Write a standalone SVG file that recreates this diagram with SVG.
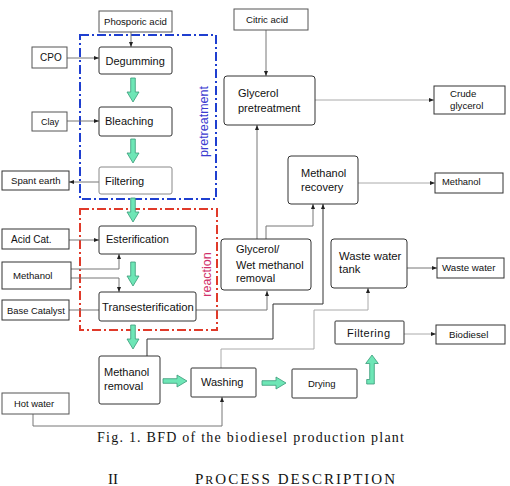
<svg xmlns="http://www.w3.org/2000/svg" width="510" height="486" viewBox="0 0 510 486">
<style>
.in{fill:#fff;stroke:#555;stroke-width:1}
.pr{fill:#fff;stroke:#333;stroke-width:1}
.t{font-family:"Liberation Sans",Arial,sans-serif;fill:#111}
.s{font-size:9.6px}
.m{font-size:11px}
.c{fill:none;stroke:#777;stroke-width:1}
.cd{fill:none;stroke:#333;stroke-width:1}
.cl{fill:none;stroke:#aaa;stroke-width:1}
.g{fill:#6ee6b6;stroke:#3a9a78;stroke-width:0.8}
.cap{font-family:"Liberation Serif","Times New Roman",serif;fill:#111}
</style>
<defs>
<marker id="ah" viewBox="0 0 10 10" refX="10" refY="5" markerWidth="5" markerHeight="5" orient="auto" markerUnits="userSpaceOnUse">
<path d="M0,1 L10,5 L0,9 Z" fill="#222"/>
</marker>
<path id="da" d="M-2.3,0 H2.3 V14 H6 L0,24 L-6,14 H-2.3 Z"/>
</defs>

<g id="region-pretreatment">
<rect x="80" y="35" width="136" height="164" fill="none" stroke="#1f3fd0" stroke-width="2" stroke-dasharray="9,3,2,3"/>
<text class="t" transform="translate(208,121.5) rotate(-90)" text-anchor="middle" font-size="12.5" style="fill:#3a3ad0">pretreatment</text>
</g>
<g id="region-reaction">
<rect x="80" y="209" width="137" height="121" fill="none" stroke="#e03a2a" stroke-width="2" stroke-dasharray="9,3,2,3"/>
<text class="t" transform="translate(211,274.5) rotate(-90)" text-anchor="middle" font-size="12.5" style="fill:#d0306a">reaction</text>
</g>

<g id="connectors">
<path class="c" d="M131,32 V47" marker-end="url(#ah)"/>
<path class="c" d="M67,58 H99" marker-end="url(#ah)"/>
<path class="c" d="M67,121 H99" marker-end="url(#ah)"/>
<path class="c" d="M99,182 H69" marker-end="url(#ah)"/>
<path class="c" d="M69,240 H99" marker-end="url(#ah)"/>
<path class="c" d="M71,269 H119 V254" marker-end="url(#ah)"/>
<path class="c" d="M71,278 H119 V292" marker-end="url(#ah)"/>
<path class="c" d="M69,310 H99"/>
<path class="c" d="M196,310 H267 V291" marker-end="url(#ah)"/>
<path class="c" d="M257,239 V125" marker-end="url(#ah)"/>
<path class="c" d="M266,30 V76" marker-end="url(#ah)"/>
<path class="cl" d="M315,100 H434" marker-end="url(#ah)"/>
<path class="c" d="M266,239 V226 H313 V204" marker-end="url(#ah)"/>
<path class="cd" d="M147,356 V339 H273 V304 H323 V204" marker-end="url(#ah)"/>
<path class="cl" d="M358,183 H435" marker-end="url(#ah)"/>
<path class="cl" d="M221,368 V349 H314 V310 H368 V288" marker-end="url(#ah)"/>
<path class="c" d="M407,268 H437" marker-end="url(#ah)"/>
<path class="c" d="M33,414 V426 H222 V397" marker-end="url(#ah)"/>
<path class="cl" d="M404,334 H436" marker-end="url(#ah)"/>
</g>

<g id="flow-arrows">
<use href="#da" class="g" transform="translate(133,78)"/>
<use href="#da" class="g" transform="translate(133,139)"/>
<use href="#da" class="g" transform="translate(133,198)"/>
<use href="#da" class="g" transform="translate(133,262)"/>
<use href="#da" class="g" transform="translate(133,325)"/>
<use href="#da" class="g" transform="translate(163,381) rotate(-90)"/>
<use href="#da" class="g" transform="translate(262,383) rotate(-90)"/>
<path class="g" d="M366.7,384 H374.3 V363.5 H378.3 L372,355 L365.7,363.5 H369.7 V379.5 H366.7 Z"/>
</g>

<g id="phosporic-acid"><rect class="in" x="99" y="11" width="73" height="21"/><text class="t s" x="104" y="25">Phosporic acid</text></g>
<g id="cpo"><rect class="in" x="32" y="47" width="35" height="21"/><text class="t" x="40" y="61" font-size="10">CPO</text></g>
<g id="degumming"><rect class="pr" x="99" y="47" width="73" height="27" rx="2"/><text class="t m" x="105.5" y="65">Degumming</text></g>
<g id="clay"><rect class="in" x="32" y="112" width="35" height="19"/><text class="t" x="41" y="124.5" font-size="9">Clay</text></g>
<g id="bleaching"><rect class="pr" x="99" y="107" width="73" height="29" rx="2"/><text class="t m" x="105" y="124.5">Bleaching</text></g>
<g id="filtering1"><rect class="in" x="99" y="167" width="73" height="27" rx="2" style="stroke:#888"/><text class="t m" x="105" y="184.5">Filtering</text></g>
<g id="spant-earth"><rect class="pr" x="2" y="171" width="67" height="19"/><text class="t s" x="11" y="184">Spant earth</text></g>
<g id="acid-cat"><rect class="pr" x="2" y="229" width="67" height="20"/><text class="t" x="11" y="242.7" font-size="10">Acid Cat.</text></g>
<g id="esterification"><rect class="pr" x="99" y="226" width="97" height="28" rx="2"/><text class="t m" x="106" y="243">Esterification</text></g>
<g id="methanol-in"><rect class="pr" x="2" y="262" width="69" height="27"/><text class="t s" x="13" y="279.3">Methanol</text></g>
<g id="transesterification"><rect class="pr" x="99" y="292" width="97" height="29" rx="2"/><text class="t" x="102" y="310.7" font-size="11.3">Transesterification</text></g>
<g id="base-catalyst"><rect class="pr" x="2" y="300" width="67" height="20"/><text class="t" x="7" y="314" font-size="9.4">Base Catalyst</text></g>
<g id="methanol-removal"><rect class="pr" x="99" y="356" width="61" height="48" rx="2"/><text class="t m" x="104" y="376">Methanol</text><text class="t m" x="104" y="390">removal</text></g>
<g id="washing"><rect class="pr" x="191" y="368" width="65" height="29" rx="1"/><text class="t m" x="201" y="386">Washing</text></g>
<g id="hot-water"><rect class="in" x="2" y="393" width="67" height="21"/><text class="t" x="14" y="406.7" font-size="9.4">Hot water</text></g>
<g id="drying"><rect class="pr" x="292" y="369" width="65" height="29" rx="1"/><text class="t" x="308" y="387" font-size="9.5">Drying</text></g>
<g id="filtering2"><rect class="pr" x="335" y="321" width="69" height="23" rx="1"/><text class="t m" x="347" y="336.7" textLength="43" lengthAdjust="spacing">Filtering</text></g>
<g id="biodiesel"><rect class="pr" x="436" y="325" width="69" height="19"/><text class="t" x="449" y="337.7" font-size="9.7">Biodiesel</text></g>
<g id="citric-acid"><rect class="in" x="234" y="9" width="74" height="21"/><text class="t s" x="246" y="23.3">Citric acid</text></g>
<g id="glycerol-pretreatment"><rect class="pr" x="224" y="76" width="91" height="49" rx="3"/><text class="t m" x="238" y="97">Glycerol</text><text class="t m" x="238" y="111.5">pretreatment</text></g>
<g id="crude-glycerol"><rect class="pr" x="434" y="86" width="71" height="28"/><text class="t" x="450" y="96.7" font-size="9.7">Crude</text><text class="t" x="450" y="109.3" font-size="9.7">glycerol</text></g>
<g id="methanol-recovery"><rect class="pr" x="288" y="156" width="70" height="48" rx="3"/><text class="t m" x="301" y="177.3">Methanol</text><text class="t m" x="301" y="190.7">recovery</text></g>
<g id="methanol-out"><rect class="pr" x="435" y="173" width="68" height="20"/><text class="t" x="442" y="185.3" font-size="9.4">Methanol</text></g>
<g id="glycerol-wet-methanol-removal"><rect class="pr" x="221" y="239" width="90" height="51" rx="3"/><text class="t m" x="236" y="253.3">Glycerol/</text><text class="t m" x="236" y="269.3">Wet methanol</text><text class="t m" x="236" y="282">removal</text></g>
<g id="waste-water-tank"><rect class="pr" x="331" y="239" width="76" height="49" rx="3"/><text class="t" x="339" y="260" font-size="11.3">Waste water</text><text class="t" x="339" y="273.3" font-size="11.3">tank</text></g>
<g id="waste-water-out"><rect class="pr" x="437" y="258" width="67" height="20"/><text class="t" x="442" y="270.7" font-size="9.7">Waste water</text></g>

<text class="cap" x="97" y="442" font-size="14" textLength="307" lengthAdjust="spacing">Fig. 1. BFD of the biodiesel production plant</text>
<text class="cap" x="108" y="484" font-size="15">II</text>
<text class="cap" x="195" y="484" font-size="15" textLength="200" lengthAdjust="spacing">P<tspan font-size="12">R</tspan>OCESS DESCRIPTION</text>
</svg>
